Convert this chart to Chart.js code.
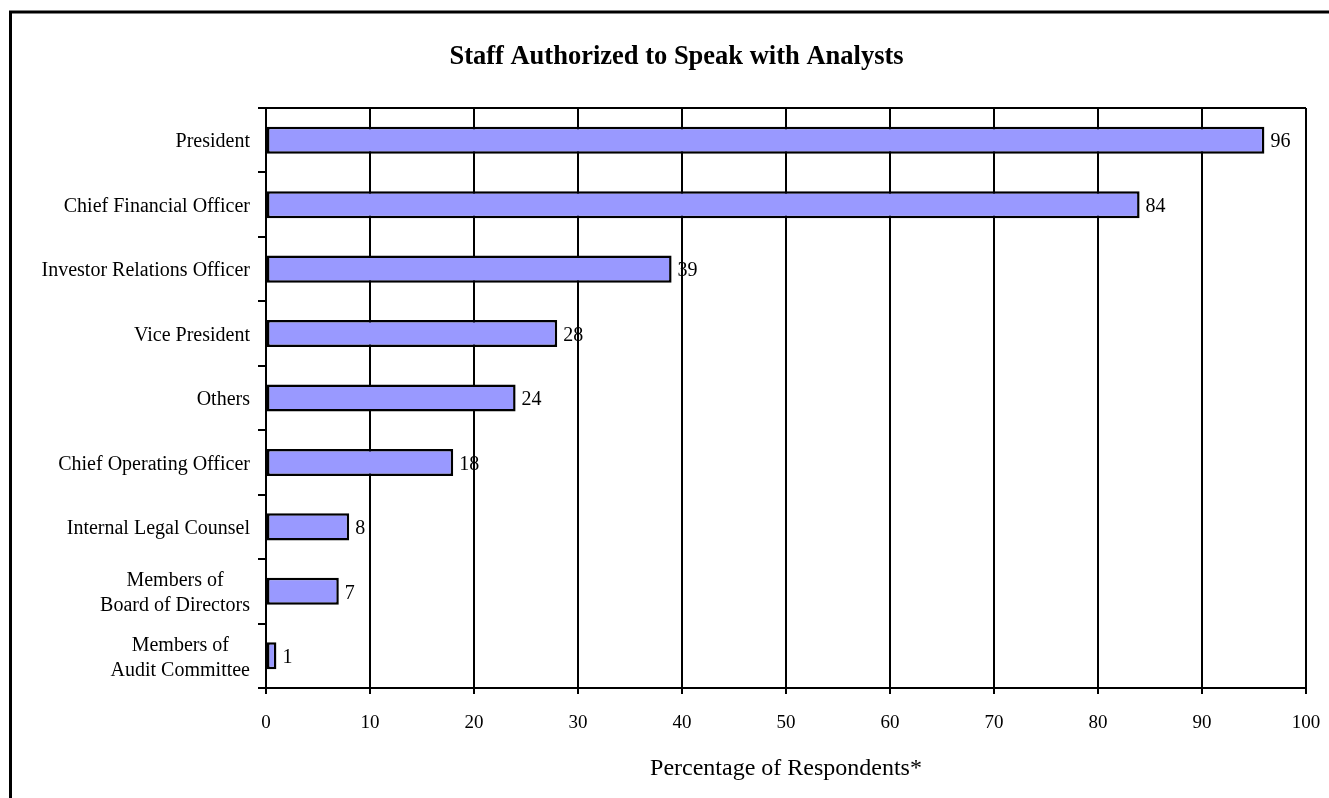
<!DOCTYPE html>
<html>
<head>
<meta charset="utf-8">
<title>Staff Authorized to Speak with Analysts</title>
<script src="https://cdn.jsdelivr.net/npm/chart.js@4/dist/chart.umd.min.js"></script>
<style>
  html, body { margin: 0; padding: 0; background: #fff; }
  canvas { display: block; }
</style>
</head>
<body>
<canvas id="staffChart" width="1329" height="798"></canvas>
<script>
// categories top to bottom, multi-line ones as arrays
const roles = [
  "President",
  "Chief Financial Officer",
  "Investor Relations Officer",
  "Vice President",
  "Others",
  "Chief Operating Officer",
  "Internal Legal Counsel",
  ["Members of", "Board of Directors"],
  ["Members of", "Audit Committee"]
];
const percentages = [96, 84, 39, 28, 24, 18, 8, 7, 1];
const xTicks = [0, 10, 20, 30, 40, 50, 60, 70, 80, 90, 100];

const chartTitle = "Staff Authorized to Speak with Analysts";
const SERIF = "'Liberation Serif', 'Times New Roman', serif";

// === outer frame, heading and top edge of the plot ===
const framePlugin = {
  id: "frame",
  beforeDraw(chart) {
    const ctx = chart.ctx;
    ctx.save();
    ctx.fillStyle = "#fff";
    ctx.fillRect(0, 0, chart.width, chart.height);
    ctx.strokeStyle = "#000";
    ctx.lineWidth = 3;
    ctx.strokeRect(10.5, 12, chart.width + 20, chart.height + 20);

    // heading sits centred over the framed box
    ctx.font = `bold 26.5px ${SERIF}`;
    ctx.fillStyle = "#000";
    ctx.textAlign = "center";
    ctx.textBaseline = "middle";
    ctx.fillText(chartTitle, chart.width / 2 + 12, 57);
    ctx.restore();
  },
  afterDraw(chart) {
    const { ctx, chartArea } = chart;
    ctx.save();
    ctx.strokeStyle = "#000";
    ctx.lineWidth = 2;
    ctx.beginPath();
    ctx.moveTo(chartArea.left, chartArea.top);
    ctx.lineTo(chartArea.right, chartArea.top);
    ctx.stroke();
    ctx.restore();
  }
};

// === category labels: block right aligned, lines centred on each other ===
const roleLabelsPlugin = {
  id: "roleLabels",
  afterDraw(chart) {
    const { ctx } = chart;
    const yScale = chart.scales.y;
    const rightEdge = chart.chartArea.left - 16;
    const lineH = 25;
    ctx.save();
    ctx.font = `20px ${SERIF}`;
    ctx.fillStyle = "#000";
    ctx.textBaseline = "middle";
    ctx.textAlign = "center";
    roles.forEach((label, i) => {
      const lines = Array.isArray(label) ? label : [label];
      const widest = Math.max(...lines.map(l => ctx.measureText(l).width));
      const cx = rightEdge - widest / 2;
      const cy = yScale.getPixelForValue(i) + 2;
      const startY = cy - (lines.length - 1) * lineH / 2;
      lines.forEach((l, j) => ctx.fillText(l, cx, startY + j * lineH));
    });
    ctx.restore();
  }
};

// === value labels at the end of each bar ===
const valueLabelsPlugin = {
  id: "valueLabels",
  afterDatasetsDraw(chart) {
    const { ctx } = chart;
    const meta = chart.getDatasetMeta(0);
    ctx.save();
    ctx.font = `20px ${SERIF}`;
    ctx.fillStyle = "#000";
    ctx.textAlign = "left";
    ctx.textBaseline = "middle";
    meta.data.forEach((bar, i) => {
      ctx.fillText(String(percentages[i]), bar.x + 6, bar.y + 2);
    });
    ctx.restore();
  }
};

const ctx = document.getElementById("staffChart").getContext("2d");

new Chart(ctx, {
  type: "bar",
  data: {
    labels: roles.map(r => Array.isArray(r) ? r.join(" ") : r),
    datasets: [{
      data: percentages,
      backgroundColor: "#9999ff",
      borderColor: "#000",
      borderWidth: 2.5,
      borderSkipped: false,
      categoryPercentage: 1,
      barPercentage: 0.42
    }]
  },
  options: {
    indexAxis: "y",
    responsive: false,
    animation: false,
    layout: { padding: { left: 0, right: 23, top: 108, bottom: 0 } },
    plugins: {
      legend: { display: false },
      tooltip: { enabled: false },
      title: { display: false }
    },
    scales: {
      x: {
        min: 0,
        max: 100,
        afterBuildTicks: (scale) => {
          scale.ticks = xTicks.map(v => ({ value: v }));
        },
        afterFit: (scale) => {
          scale.height = 110;
          scale.paddingLeft = 0;
          scale.paddingRight = 0;
        },
        ticks: {
          color: "#000",
          font: { family: SERIF, size: 19 },
          padding: 18,
          maxRotation: 0
        },
        grid: {
          color: "#000",
          lineWidth: 2,
          drawTicks: true,
          tickLength: 6,
          tickColor: "#000"
        },
        border: { display: true, color: "#000", width: 2 },
        title: {
          display: true,
          text: "Percentage of Respondents*",
          color: "#000",
          font: { family: SERIF, size: 24 },
          padding: { top: 0, bottom: 15 }
        }
      },
      y: {
        afterFit: (scale) => {
          scale.width = 266;
          scale.paddingTop = 0;
          scale.paddingBottom = 0;
        },
        ticks: { display: false },
        grid: {
          offset: true,
          drawOnChartArea: false,
          drawTicks: true,
          tickLength: 8,
          tickColor: "#000",
          lineWidth: 2
        },
        border: { display: true, color: "#000", width: 2 }
      }
    }
  },
  plugins: [framePlugin, roleLabelsPlugin, valueLabelsPlugin]
});
</script>
</body>
</html>
